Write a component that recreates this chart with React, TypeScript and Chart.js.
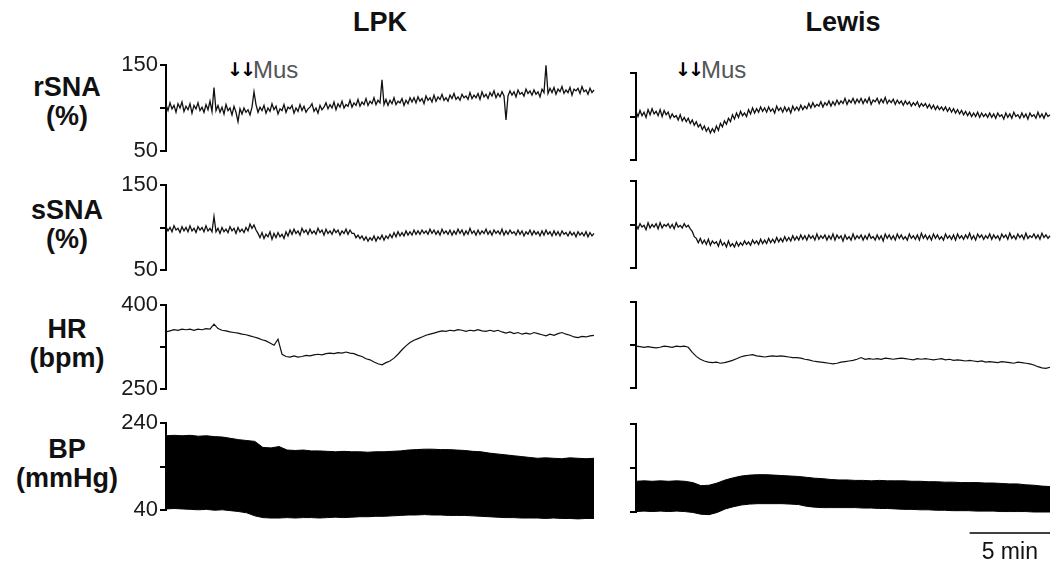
import React, { useEffect, useRef } from "react";
import { Chart, registerables } from "chart.js";

Chart.register(...registerables);

// ---------- time span of each column (minutes) ----------
const LPK_MINUTES = 26.75;
const LEWIS_MINUTES = 25.75;
const SCALE_BAR_MINUTES = 5;

// ---------- axis ticks ----------
const SNA_TICKS = [50, 100, 150];
const HR_TICKS = [250, 325, 400];
const BP_TICKS = [40, 140, 240];

// ---------- rSNA (%) ----------
const rsnaLPK = [
  104, 97, 106, 99, 103, 95, 105, 100, 107, 96, 102, 98, 105, 94, 103, 99, 106, 97, 101, 95, 104, 98, 108, 96,
  124,
  97, 103, 95, 101, 93, 104, 97, 100, 92, 102, 95,
  84,
  99, 93, 100, 95, 98, 92, 101,
  119,
  104, 95, 101, 97, 103, 94, 100, 96, 105, 98, 102, 93, 99, 97, 104, 95, 101, 99, 103, 94,
  100, 96, 104, 97, 102, 95, 99, 101, 105, 96, 100, 94, 103, 98, 101,
  106, 99, 104, 100, 107, 98, 105, 101, 108, 100, 104, 102, 109, 101, 106, 103, 110, 102, 107, 104,
  111, 103, 108, 105, 112, 104, 109, 106,
  133,
  104, 110, 103, 109, 105, 112, 104, 108, 106, 111, 103, 109, 105, 112, 107,
  112, 106, 113, 108, 111, 105, 114, 109, 112, 107, 115, 108, 113, 110, 116, 109, 112, 108, 115, 111,
  117, 110, 113, 109, 116, 112, 114, 110, 118, 111, 115, 112, 117, 110, 119, 113, 116, 111, 118, 114,
  120, 112, 117, 113, 119, 114,
  86,
  114, 120, 115, 119, 113, 121, 116, 118, 114, 122, 117, 120, 115, 121, 116, 119, 113, 122, 118,
  150,
  117, 123, 118, 124, 116, 122, 119, 125, 117, 121, 118, 124, 115, 122, 120, 123, 117, 125, 119, 121,
  116, 123, 118, 121,
];
const rsnaLewis = [
  106, 100, 107, 101, 105, 99, 108, 102, 109, 103, 106, 101, 108, 100, 107, 102,
  105, 98, 103, 99, 101, 96, 102, 95, 99, 94, 98, 92, 96, 90, 94, 88,
  91, 85, 89, 83, 87, 81, 86, 82, 89, 84, 92, 88, 95, 91, 98, 94,
  102, 97, 104, 99, 106, 101, 104, 100, 108, 103, 110, 104, 109, 105, 111, 106,
  110, 105, 111, 106, 109, 104, 112, 107, 110, 105, 111, 106, 110, 104, 112, 107,
  111, 107, 113, 108, 112, 109, 115, 110, 116, 111, 114, 112, 117, 111, 116, 113,
  118, 112, 117, 113, 119, 114, 118, 115, 121, 114, 119, 116, 121, 115, 120, 116,
  121, 115, 120, 116, 122, 114, 119, 117, 121, 115, 120, 116, 122, 115, 119, 116,
  120, 114, 119, 115, 118, 113, 118, 114, 117, 112, 116, 113, 117, 111, 115, 112,
  115, 110, 114, 109, 113, 108, 112, 108, 111, 107, 111, 106, 110, 105, 109, 104,
  108, 103, 107, 102, 106, 101, 105, 100, 104, 100, 105, 99, 104, 100, 103, 99,
  104, 99, 103, 98, 104, 100, 102, 97, 104, 99, 103, 98, 105, 100, 102, 98,
  104, 99, 103, 97, 104, 100, 102, 98, 105, 99, 103, 98, 104, 100, 102,
];

// ---------- sSNA (%) ----------
const ssnaLPK = [
  101, 96, 100, 95, 102, 97, 99, 94, 101, 96, 100, 95, 102, 96, 99, 94, 101, 97, 100, 95, 102, 96, 99, 95,
  113,
  95, 99, 93, 100, 95, 98, 94, 101, 96, 99, 93, 100, 95, 98, 94, 100, 96,
  104, 99, 103, 97,
  93, 88, 94, 87, 92, 89, 95, 86, 93, 88, 94, 89, 92, 87, 95, 90,
  97, 92, 98, 93, 96, 91, 99, 94, 97, 92, 98, 93, 96, 92, 99, 94,
  97, 91, 98, 93, 96, 92, 98, 94, 97, 91, 96, 93, 98, 92, 97, 93,
  93, 88, 91, 87, 90, 85, 89, 84, 88, 85, 90, 84, 89, 86, 91, 85, 90, 87, 92, 88,
  94, 89, 95, 90, 94, 90, 96, 91, 95, 91, 97, 92, 96, 92, 97, 93, 96, 92, 98, 93,
  97, 92, 96, 91, 98, 93, 96, 92, 97, 91, 96, 92, 98, 93, 97, 91, 96, 92, 99, 93,
  96, 91, 97, 92, 96, 93, 98, 92, 96, 91, 97, 93, 96, 92, 98, 91, 96, 92, 97, 93,
  95, 91, 97, 92, 96, 90, 95, 92, 97, 91, 96, 92, 95, 90, 96, 91, 97, 92, 95, 90,
  96, 91, 95, 90, 96, 92, 94, 90, 95, 91, 94, 89, 95, 91, 94, 90, 95, 89, 94, 90,
  93,
];
const ssnaLewis = [
  100, 95, 101, 97, 99, 94, 102, 96, 100, 97, 101, 95, 102, 96, 100, 98,
  101, 96, 100, 95, 102, 97, 99, 96, 101, 97, 99, 95,
  92, 86, 84, 79,
  84, 78, 82, 77, 83, 76, 81, 78, 80, 75, 82, 76, 79, 74, 81, 75,
  78, 74, 80, 75, 79, 76, 81, 77, 80, 76, 82, 78, 81, 77, 83, 78,
  82, 78, 84, 79, 83, 79, 85, 80, 84, 80, 86, 81, 85, 81, 87, 82,
  86, 82, 88, 83, 87, 82, 88, 84, 87, 82, 89, 83, 87, 84, 88, 82,
  87, 83, 89, 82, 88, 84, 87, 81, 88, 83, 86, 82, 89, 83, 87, 84,
  88, 82, 87, 83, 89, 84, 86, 82, 88, 83, 87, 81, 89, 84, 88, 83,
  87, 82, 89, 84, 88, 83, 86, 82, 89, 84, 87, 83, 88, 82, 90, 84,
  88, 83, 87, 82, 89, 84, 88, 83, 86, 82, 89, 84, 87, 83, 88, 82,
  89, 84, 87, 83, 88, 84, 90, 83, 87, 82, 89, 85, 88, 83, 87, 84,
  89, 83, 88, 84, 87, 82, 89, 85, 88, 83, 90, 84, 87, 83, 89, 85,
  88, 83, 90, 84, 87, 85, 89, 84, 88, 83, 90, 85, 88, 84, 87,
];

// ---------- HR (bpm) ----------
const hrLPK = [
  352, 354, 356, 355, 357, 356, 357, 355, 357, 356, 358, 357,
  366, 358,
  355, 354, 352, 351, 350, 348, 347, 345, 343, 341, 338, 336,
  332, 328, 339, 312,
  308, 307, 309, 307, 308, 310, 309, 311, 312, 311, 313, 314,
  313, 315, 314, 316, 314, 313, 310, 308, 304, 302, 298, 295,
  293, 297, 300, 305, 312, 320, 327, 333, 337, 340, 343, 346,
  348, 350, 352, 354, 353, 355, 354, 356, 355, 353, 355, 354,
  356, 354, 353, 355, 353, 355, 352, 350, 352, 349, 351, 348,
  350, 348, 351, 349, 347, 345, 348, 346, 349, 351, 348, 346,
  343, 342, 344, 343, 345, 346,
];
const hrLewis = [
  323, 322, 321, 322, 321, 320, 321, 323, 322, 321, 323, 322,
  323, 321, 312, 305, 300, 297, 295, 294, 295, 293, 294, 296,
  298, 301, 304, 306, 307, 308, 306, 305, 304, 305, 306, 305,
  306, 305, 304, 303, 303, 302, 300, 299, 297, 296, 295, 294,
  293, 292, 293, 295, 296, 297, 298, 300, 303, 300, 301, 300,
  301, 300, 302, 301, 300, 301, 302, 301, 300, 299, 301, 300,
  301, 300, 299, 300, 301, 299, 300, 298, 299, 298, 297, 298,
  297, 296, 297, 295, 296, 295, 294, 296, 295, 294, 293, 295,
  294, 293, 292, 290, 287, 285, 284, 286,
];

// ---------- BP (mmHg): systolic / diastolic envelopes ----------
const bpSysLPK = [
  211, 212, 211, 212, 210, 211, 209, 208,
  205, 202, 200, 198,
  184, 183, 186,
  178, 177, 178,
  176, 176, 175, 174, 175, 174, 174, 173, 174, 174,
  175, 176, 178, 179,
  180, 180, 179, 179, 178, 177,
  175, 174, 171, 169,
  167, 165, 163, 161,
  159, 160, 159, 158, 160, 159, 158, 159,
];
const bpDiaLPK = [
  42, 43, 42, 41, 40, 41, 39, 40, 38, 36, 33,
  26, 22, 21,
  21, 22, 21, 22, 22, 21, 22, 23, 22, 23, 24, 24, 25, 25,
  26, 27, 28, 28, 29, 28, 28, 27, 27, 27,
  26, 25, 24, 23, 22, 22, 21, 21,
  21, 20, 21, 20, 20, 19, 20, 20,
];
const bpSysLewis = [
  110, 111, 110, 111, 110, 111, 110,
  107, 100, 101, 106, 113, 118, 122,
  124, 125, 125, 124, 123, 122, 121, 119,
  117, 116, 114, 113,
  113, 112, 112, 111, 112, 111, 111, 111,
  110, 110, 109, 109, 108, 108, 107, 107,
  107, 106, 106, 105, 104, 104,
  102, 101, 99, 98,
];
const bpDiaLewis = [
  41, 42, 41, 42, 41, 42, 41,
  39, 35, 34, 39, 47, 52, 56,
  58, 59, 59, 59, 59, 58, 57, 53,
  51, 50, 50, 50,
  50, 50, 49, 49, 48, 48, 47, 46,
  46, 45, 45, 44, 44, 43, 43, 43,
  42, 42, 42, 41, 41, 41,
  41, 40, 40, 40,
];

const FONT = "Arial, 'Liberation Sans', Helvetica, sans-serif";

function toPoints(values: number[], minutes: number) {
  return values.map((y, i) => ({ x: (i * minutes) / (values.length - 1), y }));
}

// fills the area between dataset 0 (upper) and dataset 1 (lower), unclipped
const bandFillPlugin = {
  id: "bandFill",
  beforeDatasetsDraw(chart: any) {
    const up = chart.getDatasetMeta(0).data;
    const dn = chart.getDatasetMeta(1).data;
    if (!up.length || !dn.length) return;
    const ctx = chart.ctx;
    ctx.save();
    ctx.fillStyle = "#000";
    ctx.beginPath();
    up.forEach((pt: any, i: number) => (i ? ctx.lineTo(pt.x, pt.y) : ctx.moveTo(pt.x, pt.y)));
    for (let i = dn.length - 1; i >= 0; i--) ctx.lineTo(dn[i].x, dn[i].y);
    ctx.closePath();
    ctx.fill();
    ctx.restore();
  },
};

const scaleBarPlugin = {
  id: "scaleBar",
  afterDraw(chart: any) {
    const xs = chart.scales.x;
    const x1 = xs.getPixelForValue(xs.max - SCALE_BAR_MINUTES);
    const x2 = xs.getPixelForValue(xs.max);
    const y = chart.chartArea.bottom + 21;
    const ctx = chart.ctx;
    ctx.save();
    ctx.strokeStyle = "#000";
    ctx.lineWidth = 1.5;
    ctx.beginPath();
    ctx.moveTo(x1, y);
    ctx.lineTo(x2, y);
    ctx.stroke();
    ctx.fillStyle = "#111";
    ctx.font = `23px ${FONT}`;
    ctx.textAlign = "center";
    ctx.textBaseline = "middle";
    ctx.fillText(`${SCALE_BAR_MINUTES} min`, (x1 + x2) / 2, y + 20);
    ctx.restore();
  },
};

type PanelProps = {
  left: number;
  top: number;
  width: number;
  height: number;
  axisW: number;
  padB?: number;
  ticks: number[];
  showLabels: boolean;
  minutes: number;
  traces: number[][];
  band?: boolean;
  scaleBar?: boolean;
  lineWidth?: number;
};

const PAD_T = 14;
const PAD_R = 2;

function Panel(p: PanelProps) {
  const ref = useRef<HTMLCanvasElement>(null);
  const padB = p.padB ?? 14;
  const cw = p.axisW + p.width + PAD_R;
  const ch = PAD_T + p.height + padB;
  useEffect(() => {
    const canvas = ref.current!;
    const datasets: any[] = p.traces.map((t) => ({
      data: toPoints(t, p.minutes),
      borderColor: p.band ? "#000" : "#111",
      borderWidth: p.lineWidth ?? 1,
      pointRadius: 0,
      fill: false,
      clip: false,
    }));
    const [lo, mid, hi] = p.ticks;
    const plugins: any[] = [];
    if (p.band) plugins.push(bandFillPlugin);
    if (p.scaleBar) plugins.push(scaleBarPlugin);
    const chart = new Chart(canvas, {
      type: "line",
      data: { datasets },
      options: {
        animation: false,
        responsive: false,
        maintainAspectRatio: false,
        events: [],
        layout: { padding: { top: PAD_T, bottom: padB, left: 0, right: PAD_R } },
        plugins: { legend: { display: false }, tooltip: { enabled: false } },
        scales: {
          x: { type: "linear", display: false, min: 0, max: p.minutes },
          y: {
            type: "linear",
            min: lo,
            max: hi,
            afterBuildTicks: (s: any) => {
              s.ticks = p.ticks.map((v) => ({ value: v }));
            },
            afterFit: (s: any) => {
              s.width = p.axisW;
            },
            ticks: {
              autoSkip: false,
              padding: 2,
              color: "#1a1a1a",
              font: { family: FONT, size: 22 },
              callback: (v: any) => (p.showLabels && v !== mid ? String(v) : ""),
            },
            grid: {
              drawOnChartArea: false,
              drawTicks: true,
              tickLength: 6,
              color: "#000",
              lineWidth: 2,
            },
            border: { display: true, color: "#000", width: 2 },
          },
        },
      } as any,
      plugins,
    });
    return () => chart.destroy();
  }, []);
  return (
    <canvas
      ref={ref}
      width={cw}
      height={ch}
      style={{
        position: "absolute",
        left: p.left - p.axisW,
        top: p.top - PAD_T,
        width: cw,
        height: ch,
      }}
    />
  );
}

const L_LEFT = 166;
const L_W = 428;
const R_LEFT = 636;
const R_W = 414;

const textBase: React.CSSProperties = {
  position: "absolute",
  fontFamily: FONT,
  color: "#111",
  whiteSpace: "nowrap",
};

function RowLabel({ top, lines }: { top: number; lines: string[] }) {
  return (
    <div
      style={{
        ...textBase,
        left: 0,
        width: 134,
        top,
        textAlign: "center",
        fontWeight: "bold",
        fontSize: 27,
        lineHeight: "29px",
      }}
    >
      {lines[0]}
      <br />
      {lines[1]}
    </div>
  );
}

const arrowStyle: React.CSSProperties = {
  ...textBase,
  top: 58,
  fontFamily: "'DejaVu Sans', sans-serif",
  fontWeight: "bold",
  fontSize: 19,
  lineHeight: "22px",
  color: "#000",
};

function Arrows({ x }: { x: number }) {
  return (
    <>
      <span style={{ ...arrowStyle, left: x - 6 }}>↓</span>
      <span style={{ ...arrowStyle, left: x + 7 }}>↓</span>
      <span style={{ ...textBase, left: x + 20, top: 56, fontSize: 24, lineHeight: "28px", color: "#555" }}>Mus</span>
    </>
  );
}

export default function App() {
  return (
    <div style={{ position: "absolute", left: 0, top: 0, width: 1051, height: 568, background: "#fff", overflow: "hidden" }}>
      <div style={{ ...textBase, left: L_LEFT, width: L_W, top: 7, textAlign: "center", fontWeight: "bold", fontSize: 27, lineHeight: "30px" }}>LPK</div>
      <div style={{ ...textBase, left: R_LEFT, width: R_W, top: 7, textAlign: "center", fontWeight: "bold", fontSize: 27, lineHeight: "30px" }}>Lewis</div>

      <RowLabel top={73} lines={["rSNA", "(%)"]} />
      <RowLabel top={196} lines={["sSNA", "(%)"]} />
      <RowLabel top={315} lines={["HR", "(bpm)"]} />
      <RowLabel top={435} lines={["BP", "(mmHg)"]} />

      <Arrows x={233} />
      <Arrows x={681} />

      <Panel left={L_LEFT} top={64} width={L_W} height={88} axisW={60} ticks={SNA_TICKS} showLabels minutes={LPK_MINUTES} traces={[rsnaLPK]} lineWidth={1.3} />
      <Panel left={L_LEFT} top={184} width={L_W} height={87} axisW={60} ticks={SNA_TICKS} showLabels minutes={LPK_MINUTES} traces={[ssnaLPK]} lineWidth={1.3} />
      <Panel left={L_LEFT} top={304} width={L_W} height={86} axisW={60} ticks={HR_TICKS} showLabels minutes={LPK_MINUTES} traces={[hrLPK]} lineWidth={1.2} />
      <Panel left={L_LEFT} top={422} width={L_W} height={89} axisW={60} ticks={BP_TICKS} showLabels minutes={LPK_MINUTES} traces={[bpSysLPK, bpDiaLPK]} band />

      <Panel left={R_LEFT} top={72} width={R_W} height={89} axisW={20} ticks={SNA_TICKS} showLabels={false} minutes={LEWIS_MINUTES} traces={[rsnaLewis]} lineWidth={1.3} />
      <Panel left={R_LEFT} top={180} width={R_W} height={89} axisW={20} ticks={SNA_TICKS} showLabels={false} minutes={LEWIS_MINUTES} traces={[ssnaLewis]} lineWidth={1.3} />
      <Panel left={R_LEFT} top={301} width={R_W} height={88} axisW={20} ticks={HR_TICKS} showLabels={false} minutes={LEWIS_MINUTES} traces={[hrLewis]} lineWidth={1.2} />
      <Panel left={R_LEFT} top={423} width={R_W} height={89} axisW={20} padB={56} ticks={BP_TICKS} showLabels={false} minutes={LEWIS_MINUTES} traces={[bpSysLewis, bpDiaLewis]} band scaleBar />
    </div>
  );
}
